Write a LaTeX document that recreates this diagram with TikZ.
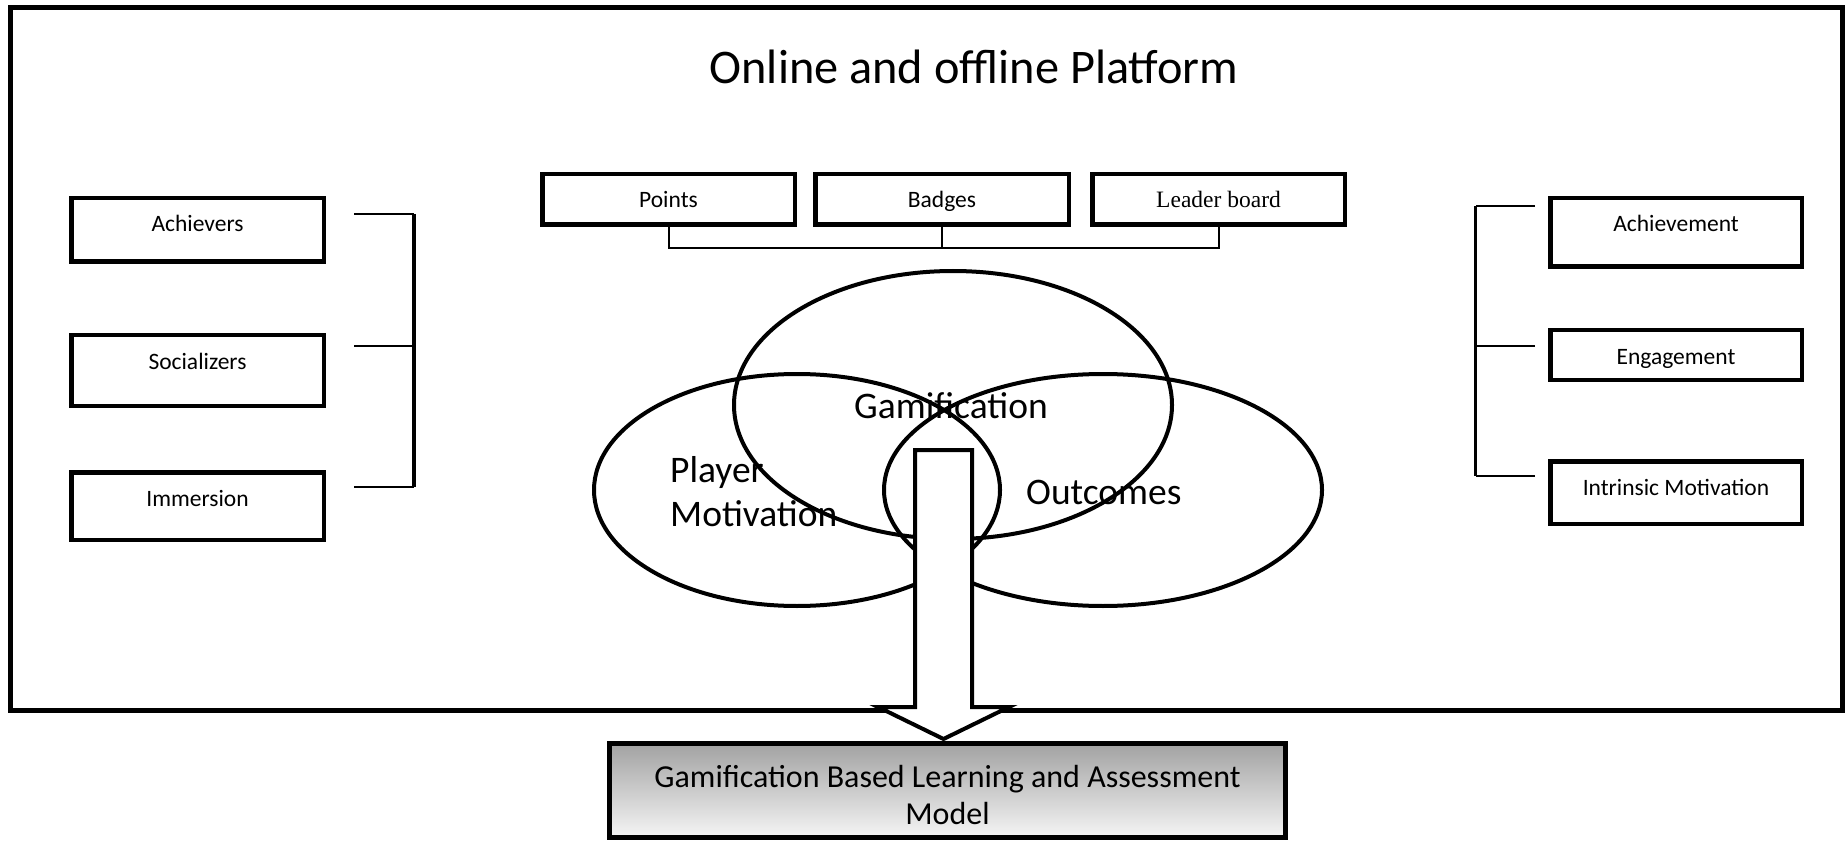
\documentclass[tikz,border=0pt]{standalone}
\usepackage{fontspec}
\setmainfont{Carlito}
\newfontfamily\timesfont{Liberation Serif}
\usetikzlibrary{calc}
\definecolor{shadetop}{HTML}{A2A2A2}
\definecolor{shadebot}{HTML}{F5F5F5}
\begin{document}
\begin{tikzpicture}[x=1pt,y=-1pt,
  frame/.style={draw=black,line width=5pt},
  itembox/.style={draw=black,line width=4.5pt,fill=white,inner sep=0pt,outer sep=0pt,
    anchor=north,text height=33.75pt,font=\fontsize{23.5}{28}\selectfont},
  bigtext/.style={inner sep=0pt,font=\fontsize{37.5}{44}\selectfont},
  venn/.style={draw=black,line width=4pt},
  brace/.style={draw=black,line width=3.5pt},
  tick/.style={draw=black,line width=2pt},
  blockarrow/.style={draw=black,line width=4pt,fill=white,line join=miter},
  modelbox/.style={draw=black,line width=5pt,top color=shadetop,bottom color=shadebot,
    inner sep=0pt,outer sep=0pt}]
\useasboundingbox (0,0) rectangle (1845,842);

% platform frame and its heading
\draw[frame] (10.5,8) rectangle (1842.5,710.5);
\node[inner sep=0pt,anchor=base,font=\fontsize{48.3}{56}\selectfont] (title) at (974,84)
  {Online and offline Platform};

% player types (left)
\node[itembox,minimum width=252.5pt,text depth=29.75pt] (ach) at (197.5,198.25) {Achievers};
\node[itembox,minimum width=252.5pt,text depth=36.75pt] (soc) at (197.5,335.25) {Socializers};
\node[itembox,minimum width=252.5pt,text depth=33.75pt] (imm) at (197.5,472.25) {Immersion};

\coordinate (lt) at (414,214);
\coordinate (lm) at (414,346);
\coordinate (lb) at (414,487);
\coordinate (lt0) at (354,214);
\coordinate (lm0) at (354,346);
\coordinate (lb0) at (354,487);
\draw[brace] (lt) -- (lb);
\draw[tick] (lt0) -- (lt);
\draw[tick] (lm0) -- (lm);
\draw[tick] (lb0) -- (lb);

% outcomes (right)
\node[itembox,minimum width=251.5pt,text depth=34.75pt] (achv) at (1676,198.25) {Achievement};
\node[itembox,minimum width=251.5pt,text depth=15.75pt] (eng) at (1676,330.25) {Engagement};
\node[itembox,minimum width=251.5pt,text depth=28.75pt] (intr) at (1676,461.25) {Intrinsic Motivation};

\coordinate (rt) at (1475.5,206);
\coordinate (rm) at (1475.5,346);
\coordinate (rb) at (1475.5,476);
\coordinate (rt0) at (1535,206);
\coordinate (rm0) at (1535,346);
\coordinate (rb0) at (1535,476);
\draw[brace] (rt) -- (rb);
\draw[tick] (rt0) -- (rt);
\draw[tick] (rm0) -- (rm);
\draw[tick] (rb0) -- (rb);

% game elements (top)
\node[itembox,minimum width=252.5pt,text depth=16.75pt] (pts) at (668.5,174.25) {Points};
\node[itembox,minimum width=253.5pt,text depth=16.75pt] (bdg) at (942,174.25) {Badges};
\node[itembox,minimum width=252.5pt,text depth=16.75pt,font=\timesfont\fontsize{23.5}{28}\selectfont]
  (ldr) at (1218.5,174.25) {Leader board};

\coordinate (bus) at (942,248);
\draw[tick] (pts.south) |- (bus);
\draw[tick] (ldr.south) |- (bus);
\draw[tick] (bdg.south) -- (bus);

% Venn diagram
\draw[venn] (953,405) ellipse [x radius=219, y radius=134];
\draw[venn] (797,490) ellipse [x radius=203, y radius=116];
\draw[venn] (1103,490) ellipse [x radius=219, y radius=116];

\node[bigtext,anchor=base] (gam) at (951,418) {Gamification};
\node[bigtext,anchor=north west,align=left] (pm) at (670,456) {Player\\Motivation};
\node[bigtext,anchor=base west] (out) at (1026,504.5) {Outcomes};

% resulting model
\node[modelbox,minimum width=676pt,minimum height=94pt] (model) at (947.5,790.5) {};
\node[inner sep=0pt,align=center,font=\fontsize{32}{36.5}\selectfont] (modeltxt)
  at ($(model.center)+(0,4.6)$) {Gamification Based Learning and Assessment\\Model};

% block arrow from the Venn diagram to the model
\draw[blockarrow] (915,450) -- (972,450) -- (972,707) -- (1009,707)
  -- (943.5,739) -- (878,707) -- (915,707) -- cycle;
\end{tikzpicture}
\end{document}
